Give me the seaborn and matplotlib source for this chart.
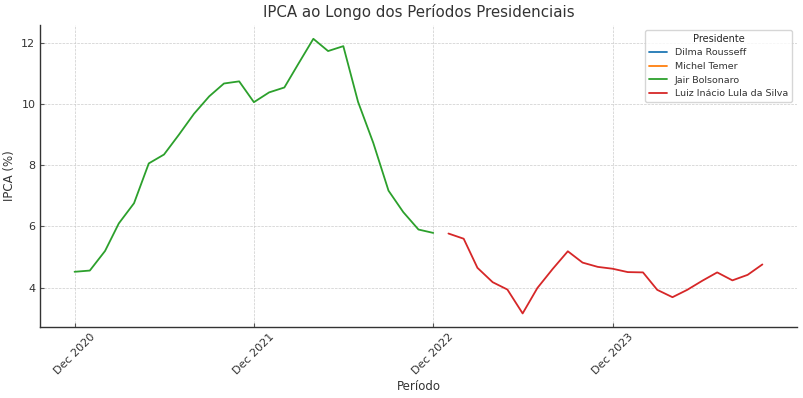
import numpy as np
import pandas as pd
import matplotlib
matplotlib.use("Agg")
import matplotlib.pyplot as plt
import matplotlib.dates as mdates
import seaborn as sns

# IPCA acumulado 12 meses
datas_bolsonaro = pd.date_range("2020-12-01", "2022-12-01", freq="MS")
ipca_bolsonaro = [4.52, 4.56, 5.20, 6.10, 6.76, 8.06, 8.35, 8.99, 9.68, 10.25,
                  10.67, 10.74, 10.06, 10.38, 10.54, 11.30, 12.13, 11.73,
                  11.89, 10.07, 8.73, 7.17, 6.47, 5.90, 5.79]
datas_lula = pd.date_range("2023-01-01", "2024-10-01", freq="MS")
ipca_lula = [5.77, 5.60, 4.65, 4.18, 3.94, 3.16, 3.99, 4.61, 5.19, 4.82, 4.68,
             4.62, 4.51, 4.50, 3.93, 3.69, 3.93, 4.23, 4.50, 4.24, 4.42, 4.76]
presidentes = ["Dilma Rousseff", "Michel Temer", "Jair Bolsonaro",
               "Luiz Inácio Lula da Silva"]
ticks_x = pd.to_datetime(["2020-12-01", "2021-12-01", "2022-12-01", "2023-12-01"])

df = pd.concat([
    pd.DataFrame({"Data": datas_bolsonaro, "IPCA": ipca_bolsonaro,
                  "Presidente": "Jair Bolsonaro"}),
    pd.DataFrame({"Data": datas_lula, "IPCA": ipca_lula,
                  "Presidente": "Luiz Inácio Lula da Silva"}),
])

sns.set_style("ticks")
plt.rcParams["font.family"] = ["DejaVu Sans"]

fig, ax = plt.subplots(figsize=(8.04, 3.98), dpi=100)
cores = sns.color_palette("tab10", 4)
for nome, cor in zip(presidentes, cores):
    sub = df[df["Presidente"] == nome]
    if len(sub) == 0:
        # sem dados no período, só aparece na legenda
        ax.plot([], [], color=cor, label=nome, linewidth=1.3)
    else:
        sns.lineplot(data=sub, x="Data", y="IPCA", color=cor, label=nome,
                     linewidth=1.3, ax=ax)

texto = "#333333"
ax.set_title("IPCA ao Longo dos Períodos Presidenciais", fontsize=10.8, color=texto)
ax.set_xlabel("Período", fontsize=8.5, color=texto, labelpad=2)
ax.set_ylabel("IPCA (%)", fontsize=8.5, color=texto)
ax.set_xticks(ticks_x)
ax.xaxis.set_major_formatter(mdates.DateFormatter("%b %Y"))
ax.set_yticks([4, 6, 8, 10, 12])
ax.tick_params(axis="both", direction="in", length=3, labelsize=8,
               labelcolor=texto, color="#555555")
plt.setp(ax.get_xticklabels(), rotation=45)
ax.grid(True, linestyle="--", color="#cccccc", linewidth=0.5)
sns.despine(ax=ax)
for lado in ["left", "bottom"]:
    ax.spines[lado].set_color("#333333")
    ax.spines[lado].set_linewidth(1.0)
ax.legend(title="Presidente", loc="upper right", fontsize=6.8, title_fontsize=7,
          labelcolor=texto)

plt.subplots_adjust(left=0.05, right=0.991, top=0.937, bottom=0.178)
plt.savefig("out.png", dpi=100)
